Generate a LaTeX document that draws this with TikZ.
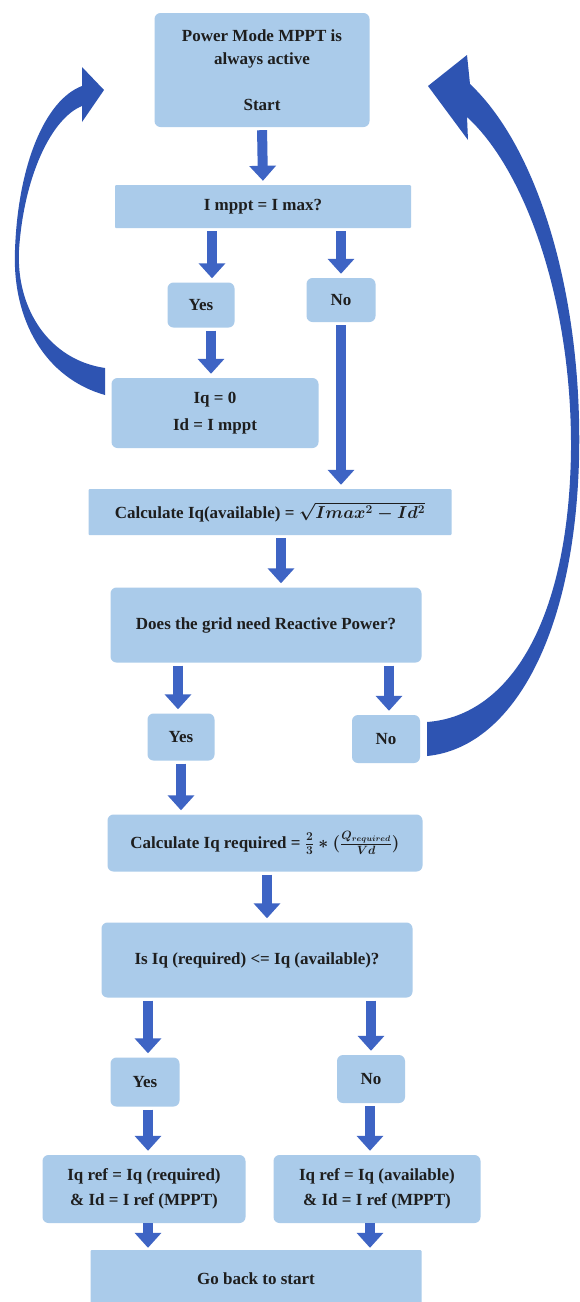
\documentclass[tikz,border=0pt]{standalone}
\usepackage{fontspec}
\setmainfont{Liberation Serif}
\usetikzlibrary{arrows.meta,calc}
\definecolor{boxblue}{RGB}{170,203,234}
\definecolor{arrowblue}{RGB}{62,100,196}
\definecolor{curveblue}{RGB}{46,84,178}
\definecolor{textdark}{RGB}{30,30,30}
\begin{document}
\begin{tikzpicture}[x=1pt,y=-1pt,
  box/.style={fill=boxblue, rounded corners=6pt, inner sep=0pt, align=center,
    font=\bfseries\boldmath\fontsize{17}{23}\selectfont, text=textdark},
  sbox/.style={box, rounded corners=1pt},
  barrow/.style={draw=arrowblue, line width=10pt, shorten <=3pt, shorten >=4pt,
    -{Triangle[width=26pt,length=15pt]}},
  curvearrow/.style={fill=curveblue}
]
\useasboundingbox (0,0) rectangle (579,1302);
\fill[white] (0,0) rectangle (579,1302);

% nodes
\node[box, minimum width=215pt, minimum height=114pt] (start) at (262,70)
  {Power Mode MPPT is\\always active\\[23pt]Start};
\node[sbox, minimum width=296pt, minimum height=43pt] (q1) at (263,206.5) {I mppt = I max?};
\node[box, minimum width=67pt, minimum height=45pt] (yes1) at (201,305) {Yes};
\node[box, minimum width=69pt, minimum height=44pt] (no1) at (341,300) {No};
\node[box, minimum width=207pt, minimum height=70pt, font=\bfseries\fontsize{17}{27}\selectfont] (iq0) at (215,413) {Iq = 0\\Id = I mppt};
\node[sbox, minimum width=363pt, minimum height=46pt] (calc1) at (270,512)
  {Calculate Iq(available) = $\sqrt{Imax^2-Id^2}$};
\node[box, minimum width=311pt, minimum height=75pt] (grid) at (266,625)
  {Does the grid need Reactive Power?};
\node[box, minimum width=67pt, minimum height=47pt] (yes2) at (181,737) {Yes};
\node[box, minimum width=68pt, minimum height=48pt] (no2) at (386,739) {No};
\node[box, minimum width=315pt, minimum height=57pt] (calc2) at (265,843)
  {Calculate Iq required = $\frac{2}{3}*(\frac{Q_{required}}{Vd})$};
\node[box, minimum width=311pt, minimum height=75pt] (cmp) at (257,960)
  {Is Iq (required) <= Iq (available)?};
\node[box, minimum width=69pt, minimum height=49pt] (yes3) at (145,1082) {Yes};
\node[box, minimum width=68pt, minimum height=48pt] (no3) at (371,1079) {No};
\node[box, minimum width=203pt, minimum height=68pt, font=\bfseries\fontsize{17}{25}\selectfont] (ref1) at (144,1189)
  {Iq ref = Iq (required)\\\& Id = I ref (MPPT)};
\node[box, minimum width=207pt, minimum height=68pt, font=\bfseries\fontsize{17}{25}\selectfont] (ref2) at (377,1189)
  {Iq ref = Iq (available)\\\& Id = I ref (MPPT)};
\node[sbox, minimum width=331pt, minimum height=58pt] (back) at (256,1279) {Go back to start};

% straight block arrows
\draw[barrow] (start.south) -- (q1.north);
\draw[barrow] ([xshift=11pt]yes1.north |- q1.south) -- ([xshift=11pt]yes1.north);
\draw[barrow] (no1.north |- q1.south) -- (no1.north);
\draw[barrow] ([xshift=-4pt]iq0.north |- yes1.south) -- ([xshift=-4pt]iq0.north);
\draw[barrow] (no1.south) -- (no1.south |- calc1.north);
\draw[barrow] ([xshift=11pt]calc1.south) -- ([xshift=11pt]calc1.south |- grid.north);
\draw[barrow] ([xshift=-3pt]yes2.north |- grid.south) -- ([xshift=-3pt]yes2.north);
\draw[barrow] ([xshift=3pt]no2.north |- grid.south) -- ([xshift=3pt]no2.north);
\draw[barrow] (yes2.south) -- (yes2.south |- calc2.north);
\draw[barrow] ([xshift=2pt]calc2.south) -- ([xshift=2pt]calc2.south |- cmp.north);
\draw[barrow] ([xshift=3pt]yes3.north |- cmp.south) -- ([xshift=3pt]yes3.north);
\draw[barrow] (no3.north |- cmp.south) -- (no3.north);
\draw[barrow] ([xshift=3pt]yes3.south) -- ([xshift=3pt]yes3.south |- ref1.north);
\draw[barrow] ([xshift=-1pt]no3.south) -- ([xshift=-1pt]no3.south |- ref2.north);
\draw[barrow, shorten <=0pt, shorten >=2pt] ([xshift=4pt]ref1.south) -- ([xshift=4pt]ref1.south |- back.north);
\draw[barrow, shorten <=0pt, shorten >=2pt] ([xshift=-7pt]ref2.south) -- ([xshift=-7pt]ref2.south |- back.north);

% left curved arrow (from Iq=0 back to start)
\fill[curvearrow] (105,395) .. controls (45,378) and (12,320) .. (15,250)
  .. controls (18,165) and (45,100) .. (82,86)
  -- (82,67) -- (104,90) -- (82,122) -- (82,106)
  .. controls (52,118) and (24,175) .. (19,250)
  .. controls (16,310) and (50,360) .. (105,368) -- cycle;

% right curved arrow (from No back to start)
\fill[curvearrow] (427,756) .. controls (510,748) and (574,640) .. (579,460)
  .. controls (583,300) and (540,150) .. (470,84)
  -- (467,55) -- (428,86) -- (468,140) -- (467,117)
  .. controls (525,170) and (572,300) .. (571,450)
  .. controls (569,620) and (510,716) .. (427,722) -- cycle;
\end{tikzpicture}
\end{document}
